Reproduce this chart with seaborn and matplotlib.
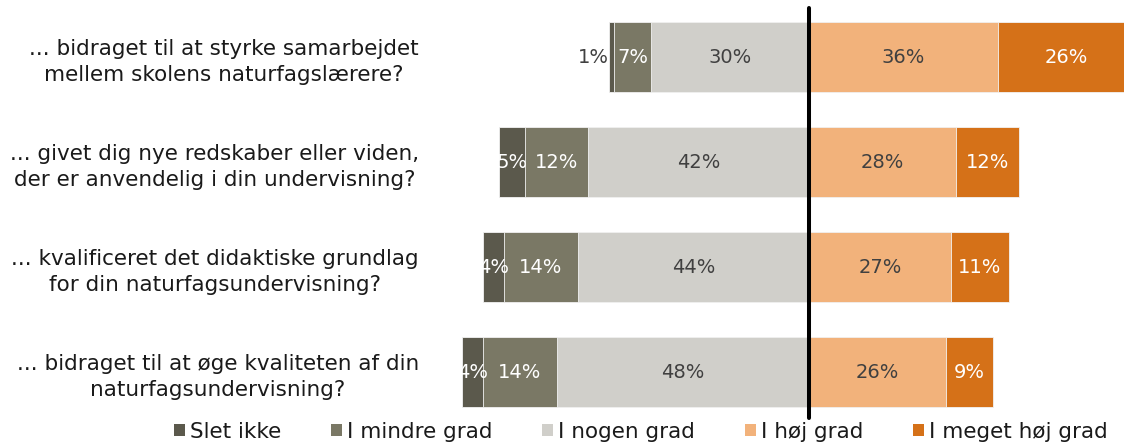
import matplotlib
matplotlib.use("Agg")
import matplotlib.pyplot as plt
from matplotlib.patches import Patch
import seaborn as sns
import numpy as np

sns.set_theme(style="white")
plt.rcParams['font.family'] = ['DejaVu Sans']

questions = [
    "... bidraget til at styrke samarbejdet\nmellem skolens naturfagslærere?",
    "... givet dig nye redskaber eller viden,\nder er anvendelig i din undervisning?",
    "... kvalificeret det didaktiske grundlag\nfor din naturfagsundervisning?",
    "... bidraget til at øge kvaliteten af din\nnaturfagsundervisning?",
]
series_names = ["Slet ikke", "I mindre grad", "I nogen grad", "I høj grad", "I meget høj grad"]
slet_ikke = [1, 5, 4, 4]
mindre = [7, 12, 14, 14]
nogen = [30, 42, 44, 48]
hoej = [36, 28, 27, 26]
meget_hoej = [26, 12, 11, 9]

colors = ["#5b594c", "#7a7865", "#d0cfca", "#f2b27b", "#d57118"]
text_colors = ["white", "white", "#404040", "#404040", "white"]

W, H, DPI = 11.24, 4.43, 100
fig = plt.figure(figsize=(W, H), dpi=DPI)

px_per = 5.26
zero_px = 809
ax_left_px = 430
ax = fig.add_axes([ax_left_px / 1124, 0, 1 - ax_left_px / 1124, 1])

s1 = np.array(slet_ikke); s2 = np.array(mindre); s3 = np.array(nogen)
s4 = np.array(hoej); s5 = np.array(meget_hoej)

# Overlay trick: draw longest extents first
layers = [
    (-(s1 + s2 + s3), colors[0]),
    (-(s2 + s3), colors[1]),
    (-s3, colors[2]),
    (s4 + s5, colors[4]),
    (s4, colors[3]),
]
for vals, col in layers:
    sns.barplot(x=vals, y=questions, orient="h", color=col, width=0.667,
                edgecolor="#f2f2f2", linewidth=0.6, ax=ax, saturation=1)

xmin = (ax_left_px - zero_px) / px_per
xmax = (1124 - zero_px) / px_per
ax.set_xlim(xmin, xmax)
ax.set_ylim((443 - 57) / 105, -57 / 105)

# labels
for i in range(len(questions)):
    segs = [
        (-(s1[i] + s2[i] + s3[i]), -(s2[i] + s3[i]), s1[i]),
        (-(s2[i] + s3[i]), -s3[i], s2[i]),
        (-s3[i], 0, s3[i]),
        (0, s4[i], s4[i]),
        (s4[i], s4[i] + s5[i], s5[i]),
    ]
    for k, (a, b, v) in enumerate(segs):
        if k == 0 and v <= 1:
            ax.text(a - 0.1, i, f"{v}%", ha="right", va="center", fontsize=14, color="#404040")
        else:
            ax.text((a + b) / 2, i, f"{v}%", ha="center", va="center", fontsize=14, color=text_colors[k])

ax.axvline(0, ymin=25 / 443, ymax=1 - 8 / 443, color="black", linewidth=2.9, zorder=5)

ax.set_xlabel(""); ax.set_ylabel("")
ax.set_xticks([])
ax.tick_params(axis="y", length=0, pad=8)
for lbl in ax.get_yticklabels():
    lbl.set_fontsize(15.5)
    lbl.set_multialignment("center")
    lbl.set_linespacing(1.4)
    lbl.set_color("#1a1a1a")
for s in ax.spines.values():
    s.set_visible(False)

handles = [Patch(facecolor=c, edgecolor="none") for c in colors]
fig.legend(handles, series_names, loc="center", bbox_to_anchor=(641 / 1124, 11 / 443),
           ncol=5, frameon=False, fontsize=15.5, handlelength=0.5, handleheight=0.5,
           handletextpad=0.25, columnspacing=2.3, labelcolor="#1a1a1a",
           borderpad=0, borderaxespad=0)

fig.savefig("out.png", dpi=DPI)
